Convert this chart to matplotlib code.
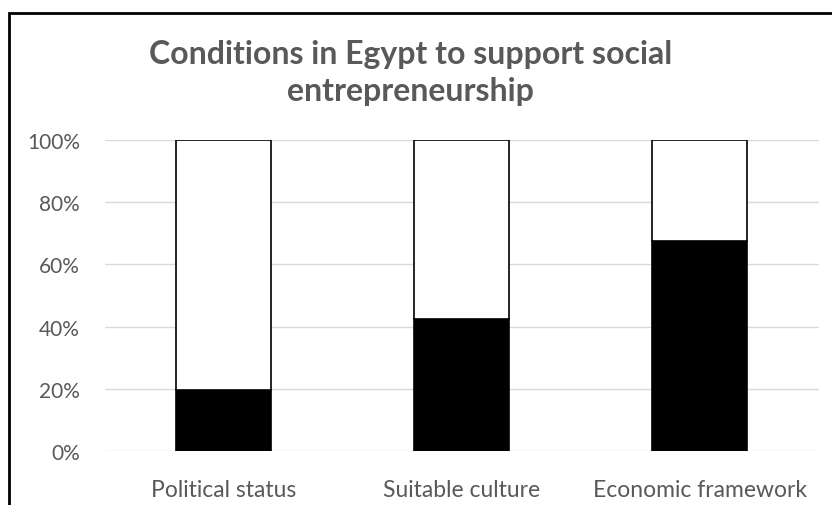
import numpy as np
import matplotlib
matplotlib.use("Agg")
import matplotlib.pyplot as plt
from matplotlib.patches import Rectangle
from matplotlib.ticker import PercentFormatter

# data
categories = ["Political status", "Suitable culture", "Economic framework"]
yes_share = [19.6, 42.5, 67.5]
no_share = [100 - v for v in yes_share]
y_ticks = [0, 20, 40, 60, 80, 100]

txt_col = "#595959"
plt.rcParams["font.family"] = ["Lato", "DejaVu Sans"]

fig = plt.figure(figsize=(8.32, 5.06), dpi=100)
ax = fig.add_axes([0.126, 0.107, 0.858, 0.614])

x = np.arange(len(categories))
ax.bar(x, yes_share, width=0.40, color="black", edgecolor="black", linewidth=1.2, zorder=3)
ax.bar(x, no_share, bottom=yes_share, width=0.40, color="white", edgecolor="black",
       linewidth=1.2, zorder=3)

ax.set_xlim(-0.5, len(categories) - 0.5)
ax.set_ylim(0, 100)
ax.set_yticks(y_ticks)
ax.yaxis.set_major_formatter(PercentFormatter(decimals=0))
ax.set_xticks(x)
ax.set_xticklabels(categories)
ax.tick_params(axis="both", length=0, colors=txt_col)
ax.tick_params(axis="x", pad=20, labelsize=16.5)
ax.tick_params(axis="y", pad=18, labelsize=15)
ax.grid(axis="y", color="#d9d9d9", linewidth=1, zorder=0)
for s in ax.spines.values():
    s.set_visible(False)

fig.text(0.493, 0.855, "Conditions in Egypt to support social\nentrepreneurship",
         ha="center", va="center", fontsize=23, fontweight="bold", color=txt_col,
         linespacing=1.33)

# outer frame (left and top edges visible in the reference)
fig.add_artist(Rectangle((9 / 832, -0.1), 1.5, 1.1 - 14 / 506, transform=fig.transFigure,
                         fill=False, edgecolor="black", linewidth=2))

fig.savefig("out.png", dpi=100)
